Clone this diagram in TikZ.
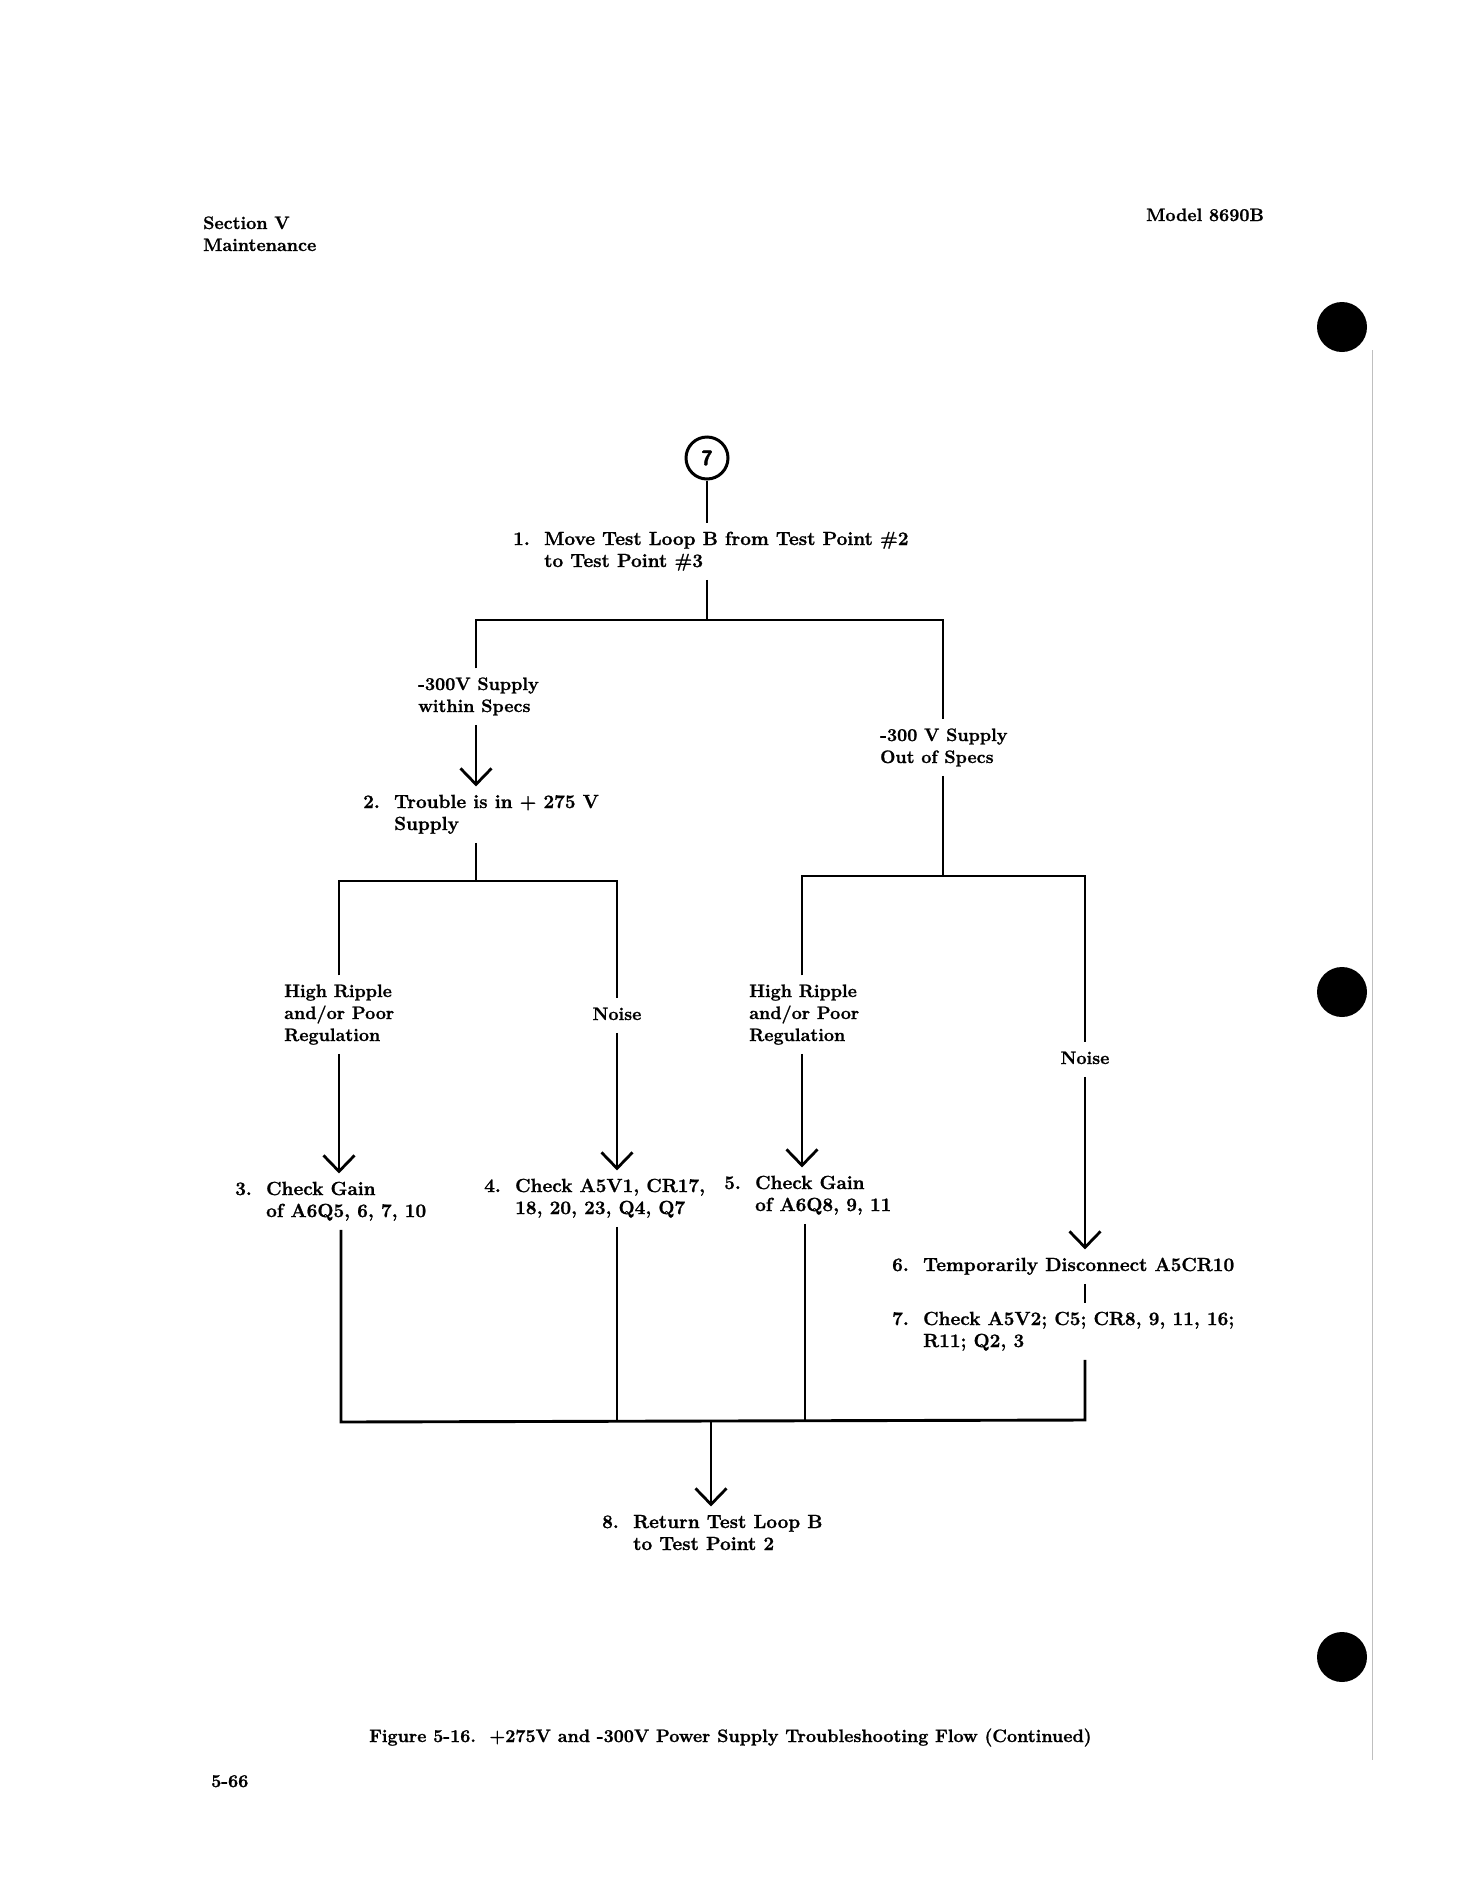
\documentclass[tikz,border=0pt]{standalone}
\usepackage{fontspec}
\setmainfont{Latin Modern Roman}[BoldFeatures={FakeBold=1.2}]
\setsansfont{Latin Modern Sans}[BoldFeatures={FakeBold=1.5}]
\usetikzlibrary{arrows.meta}
\tikzset{
  link/.style={line width=2.9pt},
  flow/.style={link, -{Straight Barb[length=16pt,width=31pt,line width=2.8pt]}},
  itemtxt/.style={inner xsep=0pt, inner ysep=6pt, anchor=base west, font=\fontsize{19}{22}\selectfont\bfseries},
  branchtxt/.style={itemtxt, font=\fontsize{18}{22}\selectfont\bfseries},
  hole/.style={circle, fill=black, minimum size=50pt, inner sep=0pt}
}
\newcommand\flowitem[2]{\begin{tabular}[t]{@{}p{31pt}@{}l@{}}#1&#2\end{tabular}}
\newcommand\txtstack[1]{\begin{tabular}[t]{@{}l@{}}#1\end{tabular}}

\begin{document}
\begin{tikzpicture}[x=1pt, y=-1pt]
\useasboundingbox (0,0) rectangle (1475,1877);
% page header
\node[branchtxt] (sec) at (203,229) {\txtstack{Section V\\Maintenance}};
\node[branchtxt] (model) at (1146,221) {Model 8690B};
% entry
\node[circle, draw, line width=3pt, minimum size=42pt, inner sep=0pt, font=\fontsize{21}{22}\selectfont\sffamily\bfseries] (c7) at (707,458) {7};
\node[itemtxt] (s1) at (513,545) {\flowitem{1.}{Move Test Loop B from Test Point \#2\\&to Test Point \#3}};
% first split
\node[branchtxt] (inL) at (418,690) {\txtstack{-300V Supply\\within Specs}};
\node[branchtxt] (outR) at (880,741) {\txtstack{-300 V Supply\\Out of Specs}};
\node[itemtxt] (s2) at (363,808) {\flowitem{2.}{Trouble is in + 275 V\\&Supply}};
% second splits
\node[branchtxt] (hrL) at (284,997) {\txtstack{High Ripple\\and/or Poor\\Regulation}};
\node[branchtxt, anchor=base] (nzL) at (617,1020) {\txtstack{Noise}};
\node[branchtxt] (hrR) at (749,997) {\txtstack{High Ripple\\and/or Poor\\Regulation}};
\node[branchtxt, anchor=base] (nzR) at (1085,1064) {\txtstack{Noise}};
% checks
\node[itemtxt] (s3) at (235,1195) {\flowitem{3.}{Check Gain\\&of A6Q5, 6, 7, 10}};
\node[itemtxt] (s4) at (484,1192) {\flowitem{4.}{Check A5V1, CR17,\\&18, 20, 23, Q4, Q7}};
\node[itemtxt] (s5) at (724,1189) {\flowitem{5.}{Check Gain\\&of A6Q8, 9, 11}};
\node[itemtxt] (s6) at (892,1271) {\flowitem{6.}{Temporarily Disconnect A5CR10}};
\node[itemtxt] (s7) at (892,1325) {\flowitem{7.}{Check A5V2; C5; CR8, 9, 11, 16;\\&R11; Q2, 3}};
\node[itemtxt] (s8) at (602,1528) {\flowitem{8.}{Return Test Loop B\\&to Test Point 2}};
% caption
\node[branchtxt] (cap) at (369,1742) {Figure 5-16.\ \ +275V and -300V Power Supply Troubleshooting Flow (Continued)};
\node[branchtxt] (pg) at (211,1787) {5-66};
% junctions
\coordinate (tJ) at (707,620);
\coordinate (tL) at (476,620);
\coordinate (tR) at (943,620);
\coordinate (mL) at (476,881);
\coordinate (mLL) at (339,881);
\coordinate (mLR) at (617,881);
\coordinate (mR) at (943,876);
\coordinate (mRL) at (802,876);
\coordinate (mRR) at (1085,876);
\coordinate (bL) at (341,1422);
\coordinate (b5) at (805,1421);
\coordinate (bJ) at (711,1421);
\coordinate (bR) at (1085,1420);
% connectors
\draw[link] (c7) -- (c7 |- s1.north);
\draw[link] (tJ |- s1.south) -- (tJ);
\draw[link] (tL |- inL.north) -- (tL) -- (tR) -- (tR |- outR.north);
\draw[flow] (tL |- inL.south) -- (tL |- s2.north);
\draw[link] (mL |- s2.south) -- (mL);
\draw[link] (mLL |- hrL.north) -- (mLL) -- (mLR) -- (nzL.north);
\draw[link] (tR |- outR.south) -- (mR);
\draw[link] (mRL |- hrR.north) -- (mRL) -- (mRR) -- (nzR.north);
\draw[flow] (mLL |- hrL.south) -- (mLL |- s3.north);
\draw[flow] (nzL.south) -- (mLR |- s4.north);
\draw[flow] (mRL |- hrR.south) -- (mRL |- s5.north);
\draw[flow] (nzR.south) -- (mRR |- s6.north);
\draw[link] (mRR |- s6.south) -- (mRR |- s7.north);
\draw[link] (bL |- s3.south) -- (bL) -- (bR) -- (bR |- s7.south);
\draw[link] (mLR |- s4.south) -- (mLR |- bL);
\draw[link] (b5 |- s5.south) -- (b5);
\draw[flow] (bJ) -- (bJ |- s8.north);
% binder holes and page edge
\foreach \y in {327,992,1657} {\node[hole] (hole\y) at (1342,\y) {};}
\draw[gray!50, line width=1pt] (1372,350) -- (1372,1760);
\end{tikzpicture}
\end{document}
